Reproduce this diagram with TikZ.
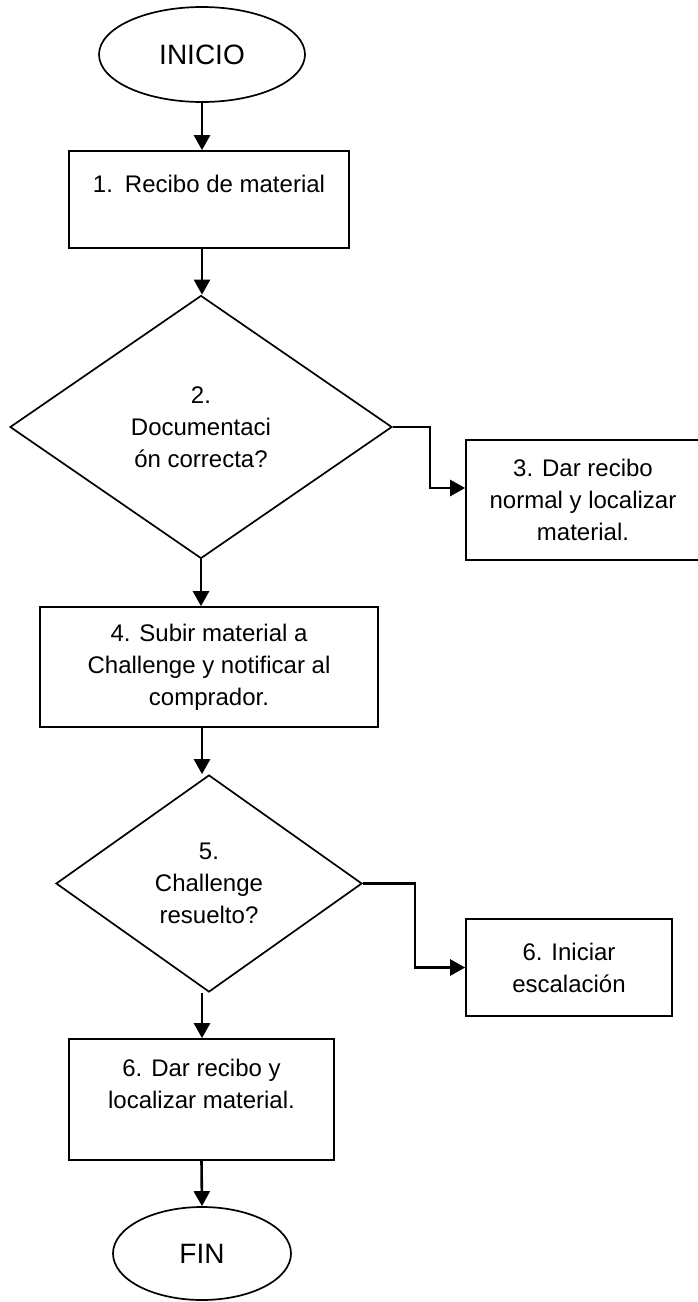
\documentclass[tikz,border=0pt]{standalone}
\usepackage{fontspec}
\setmainfont{Liberation Sans}
\usepackage{tikz}
\usetikzlibrary{shapes.geometric,arrows.meta}

\begin{document}
\begin{tikzpicture}[x=0.5pt,y=-0.5pt,
    every node/.style={inner sep=0pt, align=center, font=\fontsize{12}{16}\selectfont},
    proc/.style={draw, line width=0.85pt, rectangle},
    decis/.style={draw, line width=0.85pt, diamond},
    term/.style={draw, line width=0.85pt, ellipse, font=\fontsize{14}{16}\selectfont},
    arr/.style={line width=1.3pt, -{Triangle[length=7.5pt,width=8pt]}}]
    \useasboundingbox (0,0) rectangle (697,1302);
    \node[term, minimum width=103pt, minimum height=47.5pt] (inicio) at (202,54.5) {INICIO};
    \node[proc, minimum width=140pt, minimum height=48.5pt] (recibo) at (209,199.5) {1.\enspace Recibo de material\\ \mbox{}};
    \node[decis, minimum width=191pt, minimum height=131.5pt] (docu) at (201,427) {2.\\Documentaci\\ón correcta?};
    \node[proc, minimum width=117pt, minimum height=60pt] (normal) at (583,500) {3. Dar recibo\\normal y localizar\\material.};
    \node[proc, minimum width=169pt, minimum height=60pt] (subir) at (209,667) {4. Subir material a\\Challenge y notificar al\\comprador.};
    \node[decis, minimum width=153pt, minimum height=108.5pt] (chall) at (209,883.5) {5.\\Challenge\\resuelto?};
    \node[proc, minimum width=103pt, minimum height=48.5pt] (escal) at (569,967.5) {6. Iniciar\\escalación};
    \node[proc, minimum width=132.5pt, minimum height=60.5pt] (localiz) at (201.5,1099.5) {6. Dar recibo y\\localizar material.\\ \mbox{}};
    \node[term, minimum width=89pt, minimum height=46.5pt] (fin) at (202,1253.5) {FIN};

    \draw[arr] (inicio.south) -- (inicio.south |- recibo.north);
    \draw[arr] (inicio.south |- recibo.south) -- (inicio.south |- docu.north);
    \draw[arr] (docu.east) -- ++(18.5pt,0) |- ([yshift=6pt]normal.west);
    \draw[arr] (docu.south) -- (docu.south |- subir.north);
    \draw[arr] (inicio.south |- subir.south) -- (inicio.south |- chall.north);
    \draw[arr] (chall.east) -- ++(26pt,0) |- (escal.west);
    \draw[arr] (inicio.south |- chall.south) -- (inicio.south |- localiz.north);
    \draw[arr] (localiz.south) -- (fin.north);
\end{tikzpicture}
\end{document}
